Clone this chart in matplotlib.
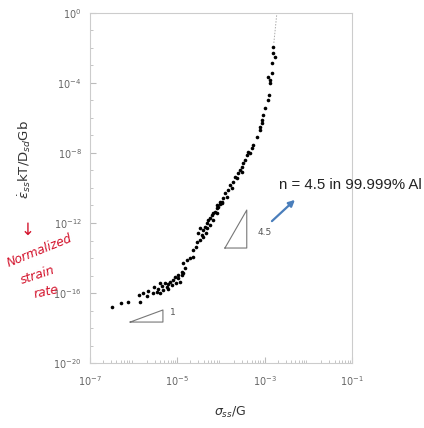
import numpy as np
import matplotlib
matplotlib.use('Agg')
import matplotlib.pyplot as plt
from matplotlib.ticker import LogLocator, NullFormatter

# log10(sigma_ss/G), log10(normalized strain rate)
log_stress = [
    -6.50, -6.29, -6.13, -5.86, -5.88, -5.79, -5.70, -5.67, -5.56, -5.54,
    -5.44, -5.40, -5.35, -5.33, -5.28, -5.24, -5.22, -5.17, -5.12, -5.10,
    -5.03, -4.99, -4.94, -4.89, -4.87, -5.40, -5.47, -5.22, -5.05,
    -4.99, -4.89, -4.83, -4.87, -4.78, -4.71, -4.64, -4.64, -4.57, -4.55,
    -4.48, -4.53, -4.44, -4.41, -4.37, -4.32, -4.30, -4.25, -4.21, -4.19,
    -4.14, -4.09, -4.07, -4.03, -3.98, -4.48, -4.41, -4.35, -4.32, -4.25,
    -4.19, -4.09,
    -4.09, -4.03, -3.96, -3.91, -3.84, -3.80, -3.73, -3.68, -3.61, -3.57,
    -3.52, -3.50, -3.45, -3.41, -3.38, -3.29, -3.27, -3.18, -3.11, -3.06,
    -3.64, -3.75, -3.87, -3.98, -3.52, -3.34,
    -3.11, -3.06, -3.04, -3.00, -2.93, -2.90, -2.88, -2.84, -2.84, -2.81,
    -2.81, -2.77, -2.88, -2.93,
]
log_rate = [
    -16.80, -16.57, -16.51, -16.51, -16.11, -16.00, -16.17, -15.89, -16.00, -15.66,
    -15.77, -16.00, -15.60, -15.83, -15.43, -15.66, -15.49, -15.37, -15.54, -15.26,
    -15.43, -15.14, -15.37, -14.97, -14.86, -15.43, -15.94, -15.77, -15.09,
    -14.97, -14.80, -14.57, -14.29, -14.11, -14.00, -13.94, -13.54, -13.37, -13.09,
    -12.97, -12.57, -12.69, -12.40, -12.23, -12.00, -11.83, -11.71, -11.54, -11.43,
    -11.37, -11.14, -11.09, -10.91, -10.80, -12.29, -12.80, -12.57, -12.29, -12.11,
    -11.83, -11.43,
    -11.00, -10.80, -10.57, -10.29, -10.11, -9.83, -9.66, -9.37, -9.14, -8.97,
    -8.80, -8.57, -8.40, -8.11, -7.94, -7.71, -7.54, -7.09, -6.69, -6.29,
    -9.43, -10.00, -10.51, -10.86, -9.09, -8.00,
    -6.51, -6.11, -5.83, -5.43, -4.97, -4.69, -3.83, -3.43, -2.86, -2.29,
    -1.94, -2.51, -4.00, -3.66,
]

# dashed extension of the curve to the top of the plot
ext_stress = [-2.79, -2.72]
ext_rate = [-1.71, 0.0]

# slope triangles (log coordinates)
tri1_stress = [-6.08, -5.33, -5.33, -6.08]
tri1_rate = [-17.66, -17.66, -16.97, -17.66]
tri45_stress = [-3.91, -3.41, -3.41, -3.91]
tri45_rate = [-13.43, -13.43, -11.26, -13.43]

xticks = [1e-7, 1e-5, 1e-3, 1e-1]
xticklabels = ['$10^{-7}$', '$10^{-5}$', '$10^{-3}$', '$10^{-1}$']
yticks = [1e-20, 1e-16, 1e-12, 1e-8, 1e-4, 1e0]
yticklabels = ['$10^{-20}$', '$10^{-16}$', '$10^{-12}$', '$10^{-8}$', '$10^{-4}$', '$10^{0}$']

fig = plt.figure(figsize=(4.24, 4.28), dpi=100)
ax = fig.add_axes([90/424, 1-363/428, 262/424, 350/428])

x = 10**np.array(log_stress)
y = 10**np.array(log_rate)
ax.plot(x, y, 'o', color='black', markersize=2.6, markeredgewidth=0)
ax.plot(10**np.array(ext_stress), 10**np.array(ext_rate), ls=(0, (1.5, 1.5)),
        color='#aaaaaa', lw=0.7)

ax.plot(10**np.array(tri1_stress), 10**np.array(tri1_rate), color='#777777', lw=0.8)
ax.plot(10**np.array(tri45_stress), 10**np.array(tri45_rate), color='#777777', lw=0.8)
ax.text(10**-5.17, 10**-17.14, '1', fontsize=6.5, color='#555555', va='center')
ax.text(10**-3.16, 10**-12.57, '4.5', fontsize=6.5, color='#555555', va='center')

ax.set_xscale('log')
ax.set_yscale('log')
ax.set_xlim(1e-7, 1e-1)
ax.set_ylim(1e-20, 1e0)
ax.set_xticks(xticks)
ax.set_xticklabels(xticklabels)
ax.set_yticks(yticks)
ax.set_yticklabels(yticklabels)
ax.xaxis.set_minor_locator(LogLocator(base=10, subs=np.arange(2, 10), numticks=20))
ax.yaxis.set_minor_locator(LogLocator(base=10, subs=[1.0], numticks=30))
ax.xaxis.set_minor_formatter(NullFormatter())
ax.yaxis.set_minor_formatter(NullFormatter())
ax.tick_params(which='both', direction='in', color='#bbbbbb', labelcolor='#666666',
               labelsize=7, top=False, right=False)
ax.tick_params(axis='x', which='major', pad=8, length=4)
ax.tick_params(axis='y', which='major', pad=6, length=4)
ax.tick_params(which='minor', length=2.5)
for s in ax.spines.values():
    s.set_color('#cccccc')
    s.set_linewidth(0.8)

# axis labels
fig.text(230/424, 1-412/428, r'$\sigma_{ss}$/G', fontsize=9, ha='center', va='center',
         color='#333333')
fig.text(25/424, 1-160/428, r'$\dot{\varepsilon}_{ss}$kT/D$_{sd}$Gb', fontsize=9.5,
         rotation=90, ha='center', va='center', color='#333333')

# annotation and arrow
ax.annotate('', xy=(10**-2.26, 10**-10.57), xytext=(10**-2.88, 10**-12.0),
            arrowprops=dict(arrowstyle='-|>', color='#4a7ebb', lw=1.6,
                            mutation_scale=9), annotation_clip=False)
fig.text(279/424, 1-185/428, 'n = 4.5 in 99.999% Al', fontsize=10.8,
         family='Liberation Sans', ha='left', va='center', color='#222222')

# red handwritten note
red = '#d3122b'
fig.text(28/424, 1-230/428, '\u2193', fontsize=12, color=red, ha='center', va='center')
fig.text(40/424, 1-251/428, 'Normalized', fontsize=8.8, color=red, style='italic',
         rotation=22, ha='center', va='center')
fig.text(38/424, 1-275/428, 'strain', fontsize=9, color=red, style='italic',
         rotation=18, ha='center', va='center')
fig.text(46/424, 1-292/428, 'rate', fontsize=9, color=red, style='italic',
         rotation=12, ha='center', va='center')

fig.savefig('out.png', dpi=100)
